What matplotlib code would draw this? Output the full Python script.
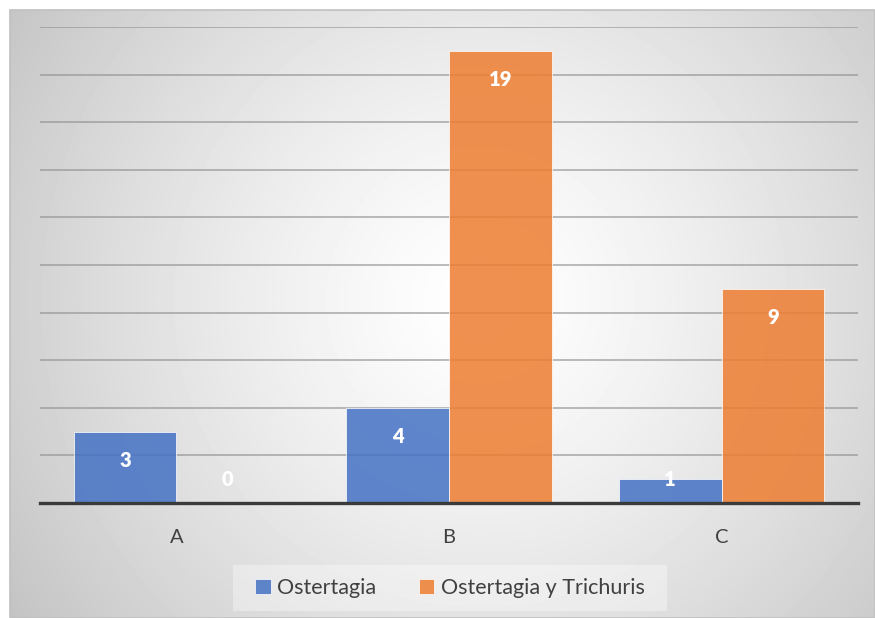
import numpy as np
import matplotlib.pyplot as plt
from matplotlib.patches import Rectangle, Patch

plt.rcParams['font.family'] = ['Lato', 'DejaVu Sans']

# data
categories = ['A', 'B', 'C']
ostertagia = [3, 4, 1]
ostertagia_trichuris = [0, 19, 9]
series_names = ['Ostertagia', 'Ostertagia y Trichuris']

blue = '#4472C4'
orange = '#ED7D31'

W, H = 875, 618
fig = plt.figure(figsize=(W / 100, H / 100), dpi=100)

# radial grey background for the chart area
bg = fig.add_axes([10 / W, 0, (W - 10) / W, (H - 10) / H], zorder=0)
yy, xx = np.mgrid[0:H - 10, 0:W - 10]
cx, cy = 470, 290
r = np.sqrt((xx - cx) ** 2 + (yy - cy) ** 2) / 540.0
shade = 1.0 - 0.22 * np.clip(r, 0, 1.2) ** 1.3
bg.imshow(shade, cmap='gray', vmin=0, vmax=1, aspect='auto',
          interpolation='bilinear')
bg.axis('off')
fig.patches.append(Rectangle((10 / W, 0), (W - 10) / W, (H - 10) / H,
                             transform=fig.transFigure, fill=False,
                             edgecolor='#c0c0c0', lw=1.2, zorder=1))

ax = fig.add_axes([40 / W, 115 / H, 818 / W, 476 / H], zorder=2)
ax.patch.set_alpha(0)

x = np.arange(len(categories))
bw = 0.377
b1 = ax.bar(x - bw / 2, ostertagia, bw, color=blue, alpha=0.85,
            edgecolor='#ffffff', linewidth=0.6, zorder=3)
b2 = ax.bar(x + bw / 2, ostertagia_trichuris, bw, color=orange, alpha=0.85,
            edgecolor='#ffffff', linewidth=0.6, zorder=3)

# value labels inside the top of each bar
for bars, vals in ((b1, ostertagia), (b2, ostertagia_trichuris)):
    for rect, v in zip(bars, vals):
        ax.text(rect.get_x() + rect.get_width() / 2, max(v - 1.2, 1.0), str(v),
                ha='center', va='center', color='white', fontsize=14.5,
                fontweight='heavy', zorder=4)

ax.set_xlim(-0.5, 2.5)
ax.set_ylim(0, 20)
ax.set_yticks(np.arange(2, 21, 2))
ax.yaxis.grid(True, color='#8f8f8f', lw=1.2, alpha=0.7, zorder=1)
ax.set_axisbelow(True)
ax.tick_params(axis='y', left=False, labelleft=False)
ax.tick_params(axis='x', bottom=False, labelsize=14.5, labelcolor='#404040', pad=15)
ax.set_xticks(x)
ax.set_xticklabels(categories)
for s in ('top', 'right', 'left'):
    ax.spines[s].set_visible(False)
ax.spines['bottom'].set_color('#3a3a3a')
ax.spines['bottom'].set_linewidth(2.4)
ax.spines['bottom'].set_zorder(5)

# legend panel (light translucent box) and entries
fig.patches.append(Rectangle((233 / W, 7 / H), 434 / W, 46 / H,
                             transform=fig.transFigure, facecolor='white',
                             alpha=0.35, edgecolor='none', zorder=1))
handles = [Patch(facecolor=blue, alpha=0.85, edgecolor='white', lw=0.6),
           Patch(facecolor=orange, alpha=0.85, edgecolor='white', lw=0.6)]
leg = fig.legend(handles, series_names, loc='center', ncol=2,
                 bbox_to_anchor=(450 / W, 30 / H), fontsize=15.5,
                 frameon=False, handlelength=0.7,
                 handleheight=0.7, handletextpad=0.3, columnspacing=2.0,
                 borderpad=0.5, borderaxespad=0)
for t in leg.get_texts():
    t.set_color('#404040')

fig.savefig('out.png', dpi=100)
